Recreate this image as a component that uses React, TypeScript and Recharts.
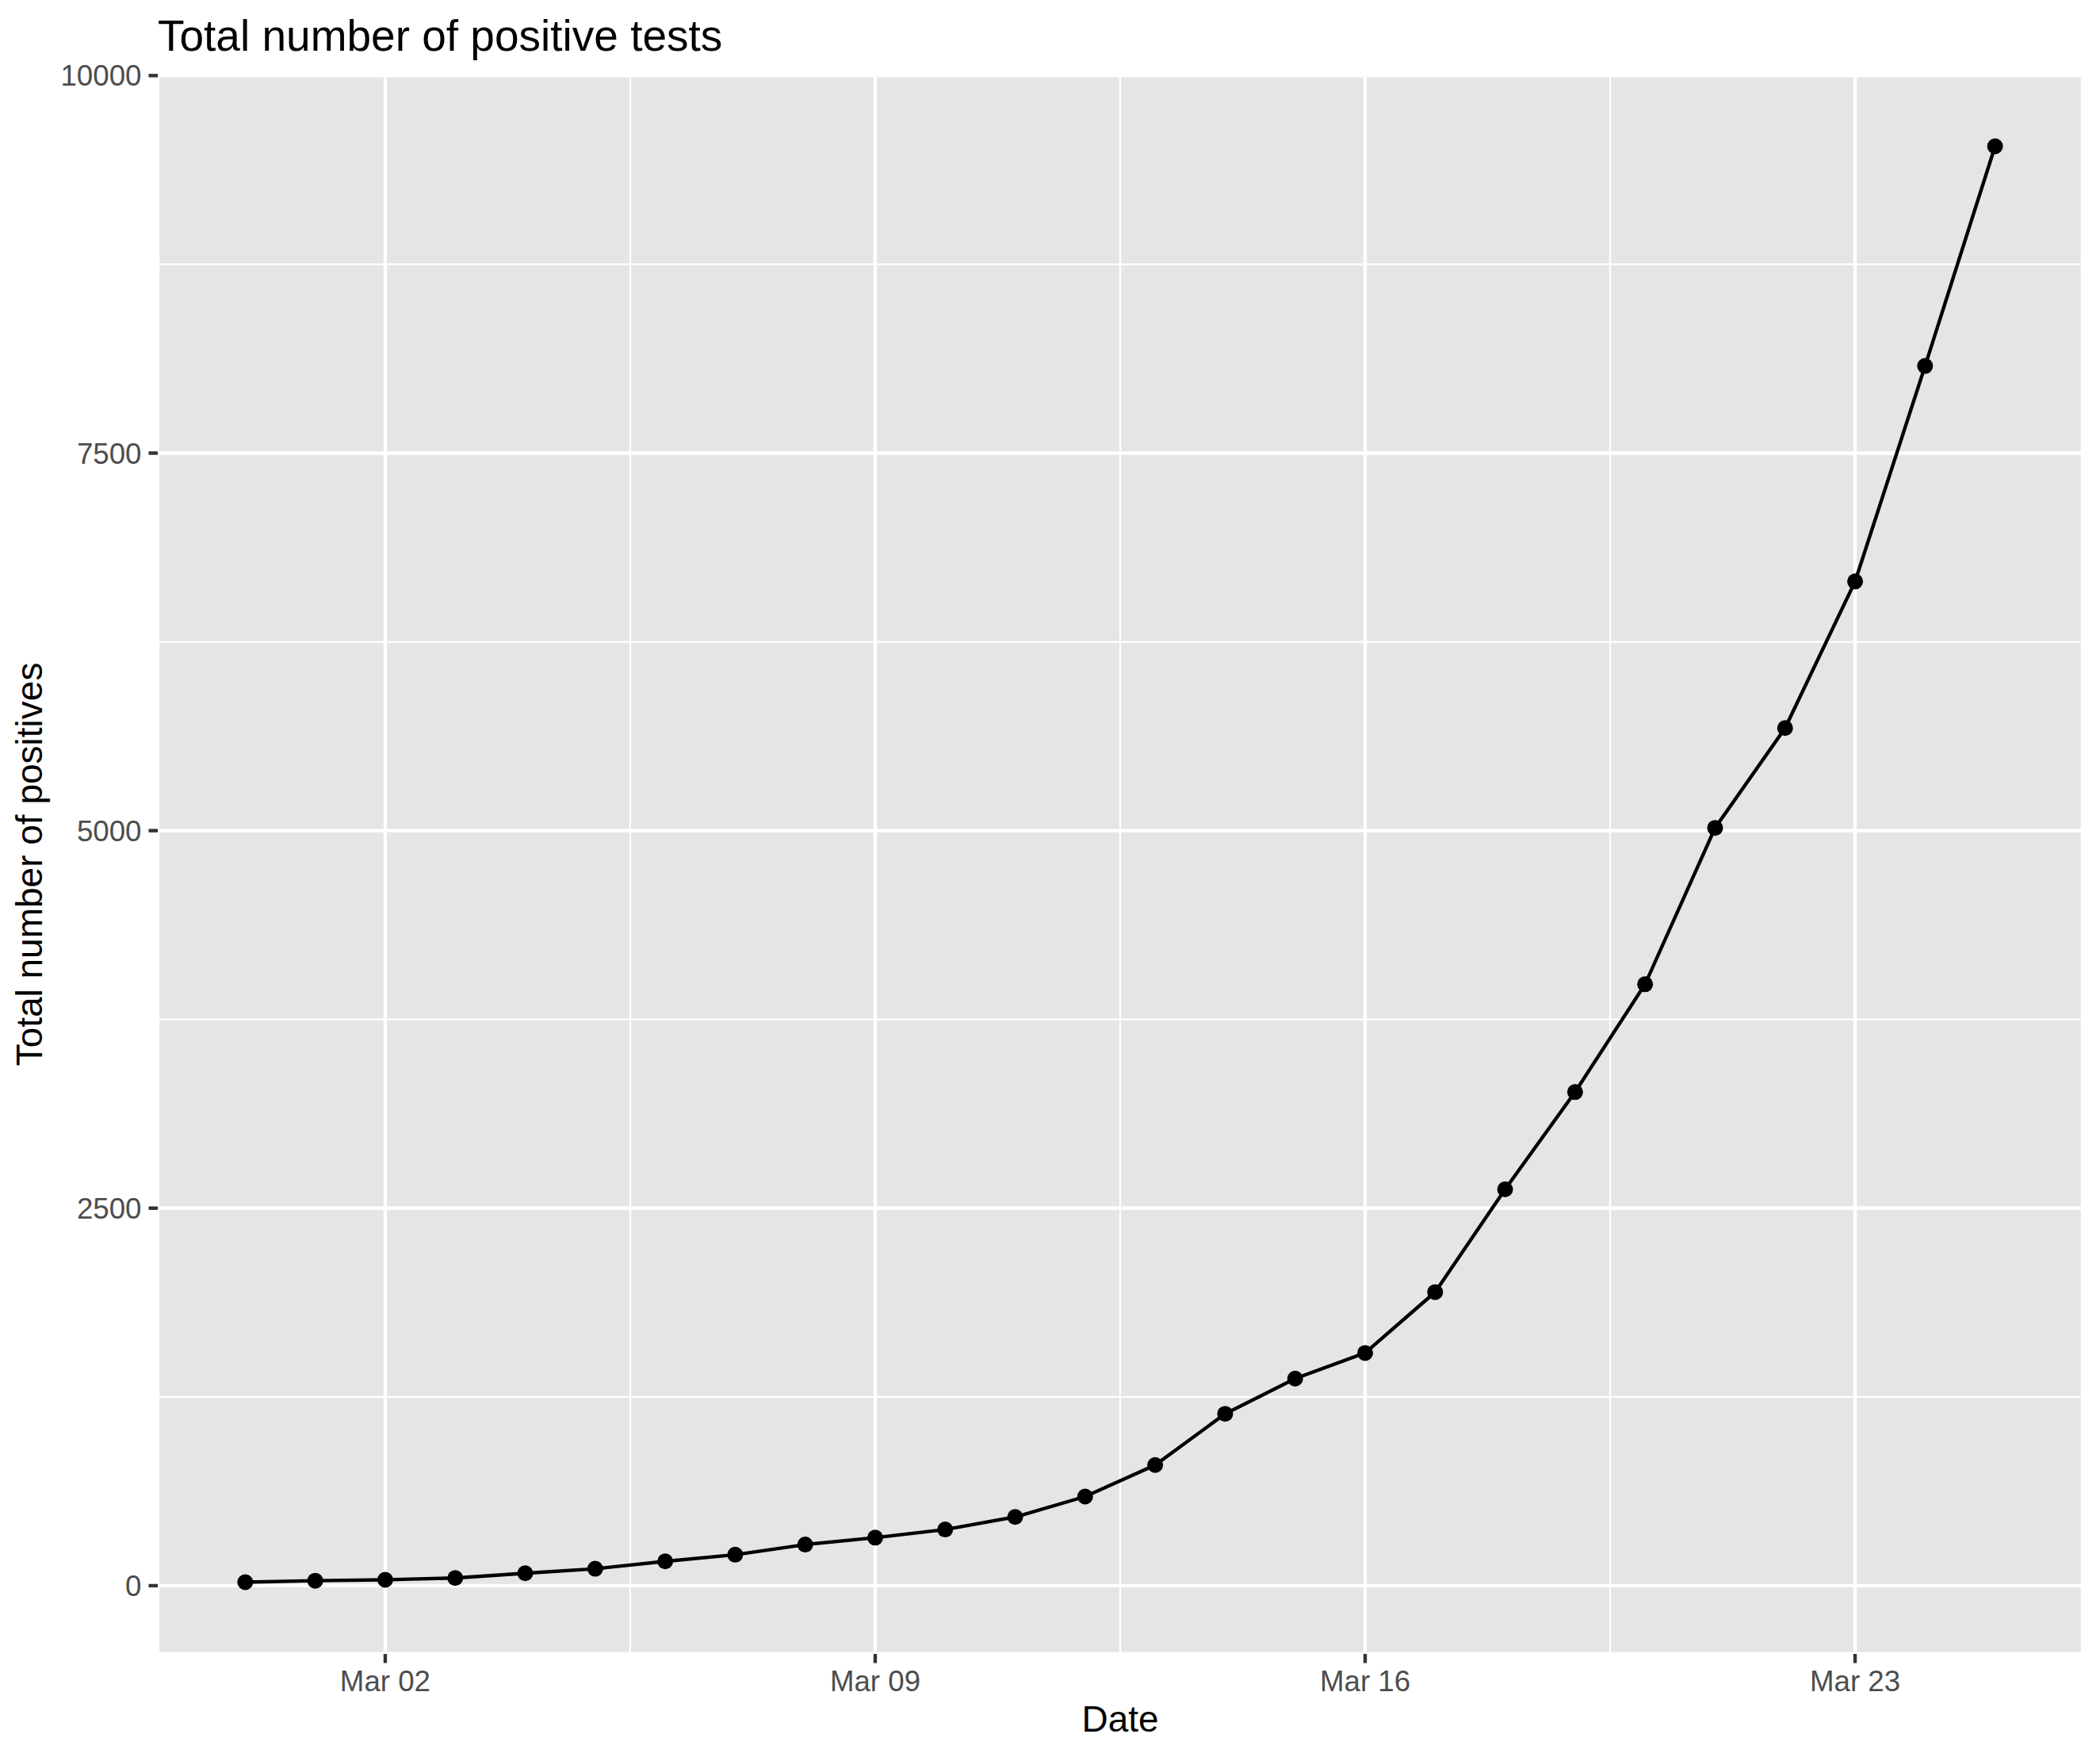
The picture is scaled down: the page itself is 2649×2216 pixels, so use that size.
import React from 'react';
import { LineChart, Line, XAxis, YAxis, CartesianGrid } from 'recharts';

// Dates (Feb 29 .. Mar 25, 2020), one label per day index
const dateLabels: string[] = [
  'Feb 29', 'Mar 01', 'Mar 02', 'Mar 03', 'Mar 04', 'Mar 05', 'Mar 06', 'Mar 07',
  'Mar 08', 'Mar 09', 'Mar 10', 'Mar 11', 'Mar 12', 'Mar 13', 'Mar 14', 'Mar 15',
  'Mar 16', 'Mar 17', 'Mar 18', 'Mar 19', 'Mar 20', 'Mar 21', 'Mar 22', 'Mar 23',
  'Mar 24', 'Mar 25',
];

// Total number of positive tests
const positives: number[] = [
  23, 33, 39, 51, 82, 112, 161, 205, 272, 318, 372, 455, 590, 799, 1138, 1371,
  1541, 1944, 2625, 3269, 3983, 5018, 5679, 6650, 8077, 9532,
];

// Axis ticks
const xMajorTicks: number[] = [2, 9, 16, 23]; // Mar 02, Mar 09, Mar 16, Mar 23
const xMinorTicks: number[] = [5.5, 12.5, 19.5];
const yMajorTicks: number[] = [0, 2500, 5000, 7500, 10000];
const yMinorTicks: number[] = [1250, 3750, 6250, 8750];

const xDomain: [number, number] = [-1.25, 26.25];
const yDomain: [number, number] = [-452, 10007];

const data = positives.map((v, i) => ({ day: i, positives: v }));

const FONT = '"Liberation Sans", Arial, Helvetica, sans-serif';
const W = 2641;
const H = 2208;

const scaleOf = (axis: any, v: number, fallback: () => number) => {
  if (axis && typeof axis.scale === 'function') return axis.scale(v);
  return fallback();
};

const minorHorizontal = (props: any) => {
  const { yAxis, offset } = props;
  return yMinorTicks.map((v) =>
    scaleOf(yAxis, v, () => offset.top + (offset.height * (yDomain[1] - v)) / (yDomain[1] - yDomain[0]))
  );
};

const minorVertical = (props: any) => {
  const { xAxis, offset } = props;
  return xMinorTicks.map((v) =>
    scaleOf(xAxis, v, () => offset.left + (offset.width * (v - xDomain[0])) / (xDomain[1] - xDomain[0]))
  );
};

export default function App() {
  const tickStyle = { fill: '#4D4D4D', fontSize: 36.7, fontFamily: FONT };
  const tickLine = { stroke: '#333333', strokeWidth: 4.4 };
  return (
    <div style={{ position: 'relative', width: W, height: H, fontFamily: FONT, background: '#FFFFFF' }}>
      <LineChart
        width={W}
        height={H}
        data={data}
        margin={{ top: 86, right: 22, left: 0, bottom: 0 }}
      >
        <CartesianGrid
          fill="#E5E5E5"
          stroke="#FFFFFF"
          strokeWidth={2.2}
          horizontalCoordinatesGenerator={minorHorizontal}
          verticalCoordinatesGenerator={minorVertical}
        />
        <CartesianGrid stroke="#FFFFFF" strokeWidth={4.4} />
        <XAxis
          dataKey="day"
          type="number"
          domain={xDomain}
          ticks={xMajorTicks}
          allowDataOverflow
          tickFormatter={(v: number) => dateLabels[v] ?? ''}
          axisLine={false}
          tickLine={tickLine}
          tickSize={11.5}
          tickMargin={9}
          tick={tickStyle}
          height={130}
          interval={0}
        />
        <YAxis
          type="number"
          domain={yDomain}
          ticks={yMajorTicks}
          allowDataOverflow
          axisLine={false}
          tickLine={tickLine}
          tickSize={11.5}
          tickMargin={9}
          tick={tickStyle}
          width={191}
          interval={0}
        />
        <Line
          dataKey="positives"
          type="linear"
          stroke="#000000"
          strokeWidth={4.4}
          dot={{ r: 10, fill: '#000000', stroke: 'none' }}
          activeDot={false}
          isAnimationActive={false}
        />
      </LineChart>
      <svg
        width={W}
        height={H}
        style={{ position: 'absolute', left: 0, top: 0, pointerEvents: 'none' }}
      >
        <text x={191} y={56} fontSize={55} fill="#000000" fontFamily={FONT}>
          Total number of positive tests
        </text>
        <text x={1405} y={2176} fontSize={46} fill="#000000" fontFamily={FONT} textAnchor="middle">
          Date
        </text>
        <text
          transform="translate(45,1082) rotate(-90)"
          fontSize={46}
          fill="#000000"
          fontFamily={FONT}
          textAnchor="middle"
        >
          Total number of positives
        </text>
      </svg>
    </div>
  );
}
